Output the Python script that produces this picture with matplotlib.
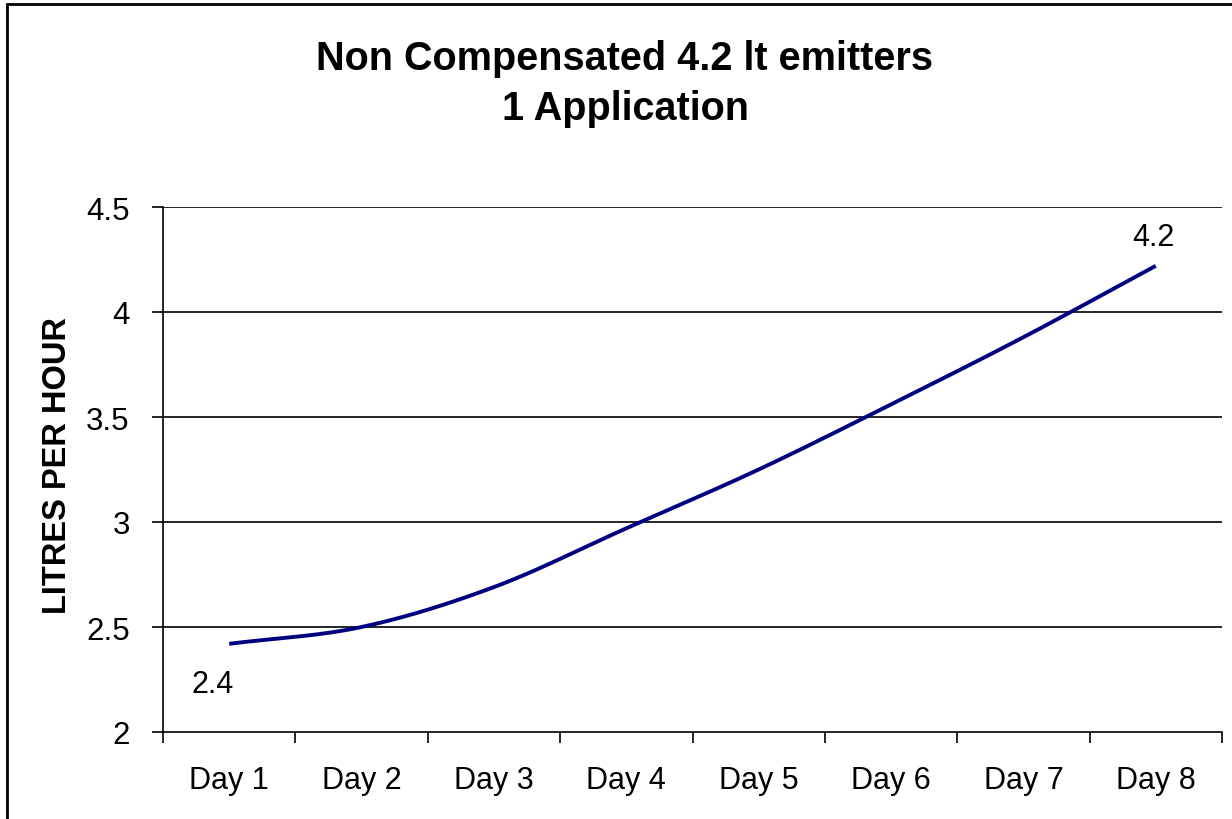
import numpy as np
import matplotlib
matplotlib.use("Agg")
import matplotlib.pyplot as plt
from matplotlib.patches import Rectangle
from matplotlib.ticker import FixedLocator, NullFormatter

days = ["Day 1", "Day 2", "Day 3", "Day 4", "Day 5", "Day 6", "Day 7", "Day 8"]
litres_per_hour = [2.42, 2.50, 2.69, 2.97, 3.25, 3.56, 3.88, 4.22]
yticks = [2, 2.5, 3, 3.5, 4, 4.5]
ytick_labels = ["2", "2.5", "3", "3.5", "4", "4.5"]
title = "Non Compensated 4.2 lt emitters\n1 Application"
ylabel = "LITRES PER HOUR"

plt.rcParams['font.family'] = ['Liberation Sans', 'DejaVu Sans']

W, H = 1232, 820
fig = plt.figure(figsize=(W / 100, H / 100), dpi=100)
fig.patch.set_facecolor("white")

left, right, top, bottom = 163, 1222, 208, 733
ax = fig.add_axes([left / W, 1 - bottom / H, (right - left) / W, (bottom - top) / H])

x = np.arange(len(days)) + 0.5
y = np.array(litres_per_hour, dtype=float)


def catmull_rom(px, py, n=30):
    px = np.asarray(px, float)
    py = np.asarray(py, float)
    P = np.column_stack([px, py])
    P = np.vstack([2 * P[0] - P[1], P, 2 * P[-1] - P[-2]])
    out = []
    for i in range(1, len(P) - 2):
        p0, p1, p2, p3 = P[i - 1], P[i], P[i + 1], P[i + 2]
        t = np.linspace(0, 1, n, endpoint=(i == len(P) - 3))[:, None]
        seg = 0.5 * ((2 * p1) + (-p0 + p2) * t + (2 * p0 - 5 * p1 + 4 * p2 - p3) * t ** 2
                     + (-p0 + 3 * p1 - 3 * p2 + p3) * t ** 3)
        out.append(seg)
    out = np.vstack(out)
    return out[:, 0], out[:, 1]


sx, sy = catmull_rom(x, y)
ax.plot(sx, sy, color="#000080", lw=2.8, solid_capstyle="butt", zorder=3)

ax.set_xlim(0, len(days))
ax.set_ylim(2, 4.5)

# y grid
for v in yticks[1:]:
    ax.axhline(v, color="black", lw=1.2, zorder=1)

ax.set_yticks(yticks)
ax.set_yticklabels(ytick_labels)
ax.tick_params(axis="y", length=8, width=1.2, direction="out", pad=16, labelsize=22.5)

ax.xaxis.set_major_locator(FixedLocator(np.arange(len(days) + 1)))
ax.xaxis.set_major_formatter(NullFormatter())
ax.xaxis.set_minor_locator(FixedLocator(x))
ax.set_xticklabels(days, minor=True)
ax.tick_params(axis="x", which="major", length=8, width=1.2, direction="out")
ax.tick_params(axis="x", which="minor", length=0, pad=24, labelsize=22)

for s in ["top", "right"]:
    ax.spines[s].set_visible(False)
for s in ["left", "bottom"]:
    ax.spines[s].set_linewidth(1.2)
ax.set_facecolor("white")

# data labels
ax.annotate(f"{litres_per_hour[0]:.1f}", (x[0], y[0]), xytext=(-17, -40),
            textcoords="offset pixels", ha="center", va="center", fontsize=22)
ax.annotate(f"{litres_per_hour[-1]:.1f}", (x[-1], y[-1]), xytext=(-2, 29),
            textcoords="offset pixels", ha="center", va="center", fontsize=22)

fig.text(58 / W, 1 - 466 / H, ylabel, rotation=90, ha="center", va="center",
         fontsize=23.5, fontweight="bold")
fig.text(625 / W, 1 - 84 / H, title, ha="center", va="center", fontsize=28.5,
         fontweight="bold", linespacing=1.42)

fig.add_artist(Rectangle((7 / W, -0.1), 1.2, 1 + 0.1 - 5 / H, transform=fig.transFigure,
                         fill=False, edgecolor="black", lw=2))

fig.savefig("out.png", dpi=100, facecolor="white")
